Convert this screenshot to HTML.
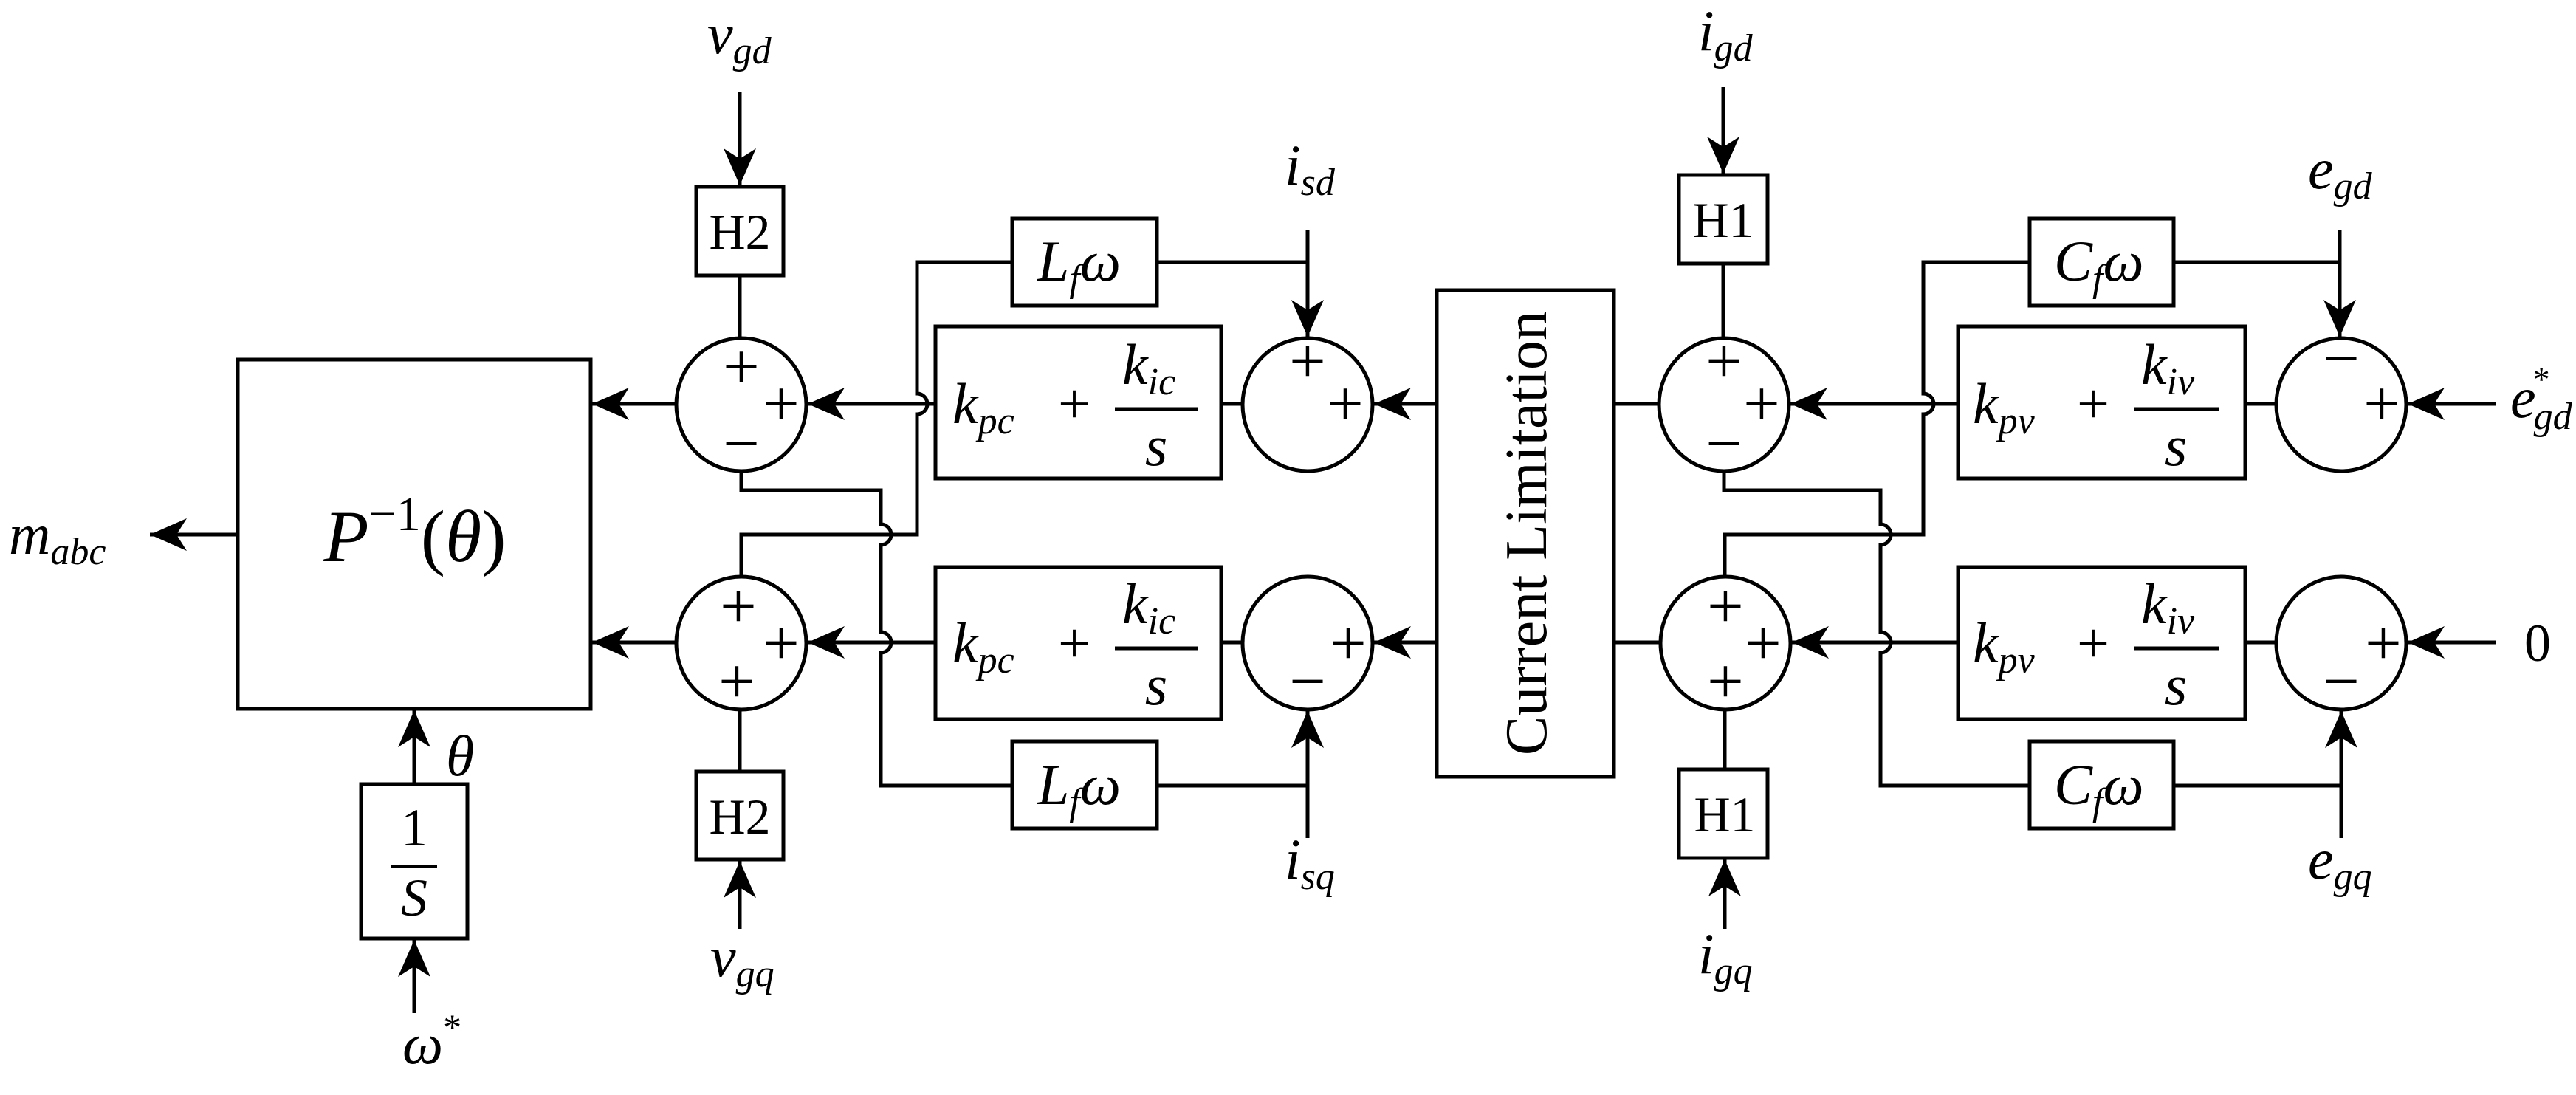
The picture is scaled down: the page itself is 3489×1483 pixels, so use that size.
<!DOCTYPE html>
<html><head><meta charset="utf-8"><style>
html,body{margin:0;padding:0;background:#fff;}
svg{display:block;}
text{font-family:"Liberation Serif",serif;fill:#000;}
.m{font-style:italic;font-size:78px;}
.s{font-size:52px;font-style:italic;}
.u{font-style:normal;}
.pl{font-size:88px;font-style:normal;text-anchor:middle;}
</style></head><body>
<svg width="3489" height="1483" viewBox="0 0 3489 1483" xmlns="http://www.w3.org/2000/svg">
<defs>
<marker id="a" markerUnits="userSpaceOnUse" markerWidth="52" markerHeight="46" refX="50" refY="23" orient="auto">
<path d="M0,1 L50,23 L0,45 L14,23 Z" fill="#000"/>
</marker>
</defs>
<g fill="none" stroke="#000" stroke-width="5">
<rect x="322" y="487" width="478" height="473"/>
<rect x="489" y="1062" width="144" height="209"/>
<rect x="943" y="253" width="118" height="120"/>
<rect x="943" y="1045" width="118" height="119"/>
<rect x="1267" y="442" width="387" height="206"/>
<rect x="1267" y="768" width="387" height="206"/>
<rect x="1371" y="296" width="196" height="118"/>
<rect x="1371" y="1004" width="196" height="118"/>
<rect x="1946" y="393" width="240" height="659"/>
<rect x="2274" y="237" width="120" height="120"/>
<rect x="2274" y="1042" width="120" height="120"/>
<rect x="2652" y="442" width="389" height="206"/>
<rect x="2652" y="768" width="389" height="206"/>
<rect x="2749" y="296" width="195" height="118"/>
<rect x="2749" y="1004" width="195" height="118"/>
<ellipse cx="1004" cy="548" rx="88" ry="90"/>
<ellipse cx="1004" cy="871" rx="88" ry="90"/>
<ellipse cx="1771" cy="548" rx="88" ry="90"/>
<ellipse cx="1771" cy="871" rx="88" ry="90"/>
<ellipse cx="2335" cy="548" rx="88" ry="90"/>
<ellipse cx="2337" cy="871" rx="88" ry="90"/>
<ellipse cx="3171" cy="548" rx="88" ry="90"/>
<ellipse cx="3171" cy="871" rx="88" ry="90"/>
<line x1="322" y1="724" x2="203" y2="724" marker-end="url(#a)"/>
<line x1="916" y1="547" x2="802" y2="547" marker-end="url(#a)"/>
<line x1="916" y1="870" x2="802" y2="870" marker-end="url(#a)"/>
<line x1="561" y1="1062" x2="561" y2="962" marker-end="url(#a)"/>
<line x1="561" y1="1372" x2="561" y2="1273" marker-end="url(#a)"/>
<line x1="1002" y1="124" x2="1002" y2="251" marker-end="url(#a)"/>
<line x1="1002" y1="373" x2="1002" y2="458"/>
<line x1="1002" y1="1258" x2="1002" y2="1166" marker-end="url(#a)"/>
<line x1="1002" y1="1045" x2="1002" y2="961"/>
<line x1="1267" y1="547" x2="1094" y2="547" marker-end="url(#a)"/>
<line x1="1267" y1="870" x2="1094" y2="870" marker-end="url(#a)"/>
<line x1="1654" y1="547" x2="1683" y2="547"/>
<line x1="1654" y1="870" x2="1683" y2="870"/>
<path d="M1371,355 H1242 V533 A14,14 0 0 1 1242,561 V724 H1004 V781"/>
<path d="M1004,638 V664 H1193 V710 A14,14 0 0 1 1193,738 V856 A14,14 0 0 1 1193,884 V1064 H1371"/>
<path d="M1567,355 H1771"/>
<line x1="1771" y1="312" x2="1771" y2="456" marker-end="url(#a)"/>
<path d="M1567,1064 H1771"/>
<line x1="1771" y1="1135" x2="1771" y2="963" marker-end="url(#a)"/>
<line x1="1946" y1="547" x2="1861" y2="547" marker-end="url(#a)"/>
<line x1="1946" y1="870" x2="1861" y2="870" marker-end="url(#a)"/>
<line x1="2186" y1="547" x2="2247" y2="547"/>
<line x1="2186" y1="870" x2="2249" y2="870"/>
<line x1="2334" y1="118" x2="2334" y2="235" marker-end="url(#a)"/>
<line x1="2334" y1="357" x2="2334" y2="458"/>
<line x1="2336" y1="1258" x2="2336" y2="1164" marker-end="url(#a)"/>
<line x1="2336" y1="1042" x2="2336" y2="961"/>
<line x1="2652" y1="547" x2="2425" y2="547" marker-end="url(#a)"/>
<line x1="2652" y1="870" x2="2427" y2="870" marker-end="url(#a)"/>
<line x1="3041" y1="547" x2="3083" y2="547"/>
<line x1="3041" y1="870" x2="3083" y2="870"/>
<path d="M2749,355 H2605 V533 A14,14 0 0 1 2605,561 V724 H2336 V781"/>
<path d="M2335,638 V664 H2547 V710 A14,14 0 0 1 2547,738 V856 A14,14 0 0 1 2547,884 V1064 H2749"/>
<path d="M2944,355 H3169"/>
<line x1="3169" y1="312" x2="3169" y2="456" marker-end="url(#a)"/>
<path d="M2944,1064 H3171"/>
<line x1="3171" y1="1135" x2="3171" y2="963" marker-end="url(#a)"/>
<line x1="3380" y1="547" x2="3261" y2="547" marker-end="url(#a)"/>
<line x1="3380" y1="870" x2="3261" y2="870" marker-end="url(#a)"/>
<line x1="530" y1="1173" x2="592" y2="1173" stroke-width="4"/>
<line x1="1510" y1="554" x2="1623" y2="554"/>
<line x1="1510" y1="878" x2="1623" y2="878"/>
<line x1="2890" y1="554" x2="3005" y2="554"/>
<line x1="2890" y1="878" x2="3005" y2="878"/>
</g>
<text x="562" y="760" class="m" text-anchor="middle" style="font-size:100px">P<tspan class="u" style="font-size:66px" dy="-42">−1</tspan><tspan class="u" dy="42">(</tspan>θ<tspan class="u">)</tspan></text>
<text x="12" y="750" class="m">m<tspan class="s" dy="14">abc</tspan></text>
<text x="561" y="1145" class="u" style="font-size:72px" text-anchor="middle">1</text>
<text x="561" y="1240" class="m" style="font-size:72px" text-anchor="middle">S</text>
<text x="604" y="1050" class="m">θ</text>
<text x="545" y="1440" class="m">ω<tspan class="u" style="font-size:50px" dy="-32">*</tspan></text>
<text x="958" y="72" class="m">v<tspan class="s" dy="14">gd</tspan></text>
<text x="962" y="1322" class="m">v<tspan class="s" dy="14">gq</tspan></text>
<text x="1002" y="337" style="font-size:68px" text-anchor="middle">H2</text>
<text x="1002" y="1129" style="font-size:68px" text-anchor="middle">H2</text>
<text x="2334" y="321" style="font-size:68px" text-anchor="middle">H1</text>
<text x="2336" y="1126" style="font-size:68px" text-anchor="middle">H1</text>
<text x="1290" y="573" class="m">k<tspan class="s" dy="14">pc</tspan></text>
<text x="1455" y="573" class="u" style="font-size:78px" text-anchor="middle">+</text>
<text x="1520" y="520" class="m">k<tspan class="s" dy="14">ic</tspan></text>
<text x="1566" y="630" class="m" text-anchor="middle">s</text>
<text x="1290" y="897" class="m">k<tspan class="s" dy="14">pc</tspan></text>
<text x="1455" y="897" class="u" style="font-size:78px" text-anchor="middle">+</text>
<text x="1520" y="844" class="m">k<tspan class="s" dy="14">ic</tspan></text>
<text x="1566" y="954" class="m" text-anchor="middle">s</text>
<text x="2672" y="573" class="m">k<tspan class="s" dy="14">pv</tspan></text>
<text x="2835" y="573" class="u" style="font-size:78px" text-anchor="middle">+</text>
<text x="2900" y="520" class="m">k<tspan class="s" dy="14">iv</tspan></text>
<text x="2947" y="630" class="m" text-anchor="middle">s</text>
<text x="2672" y="897" class="m">k<tspan class="s" dy="14">pv</tspan></text>
<text x="2835" y="897" class="u" style="font-size:78px" text-anchor="middle">+</text>
<text x="2900" y="844" class="m">k<tspan class="s" dy="14">iv</tspan></text>
<text x="2947" y="954" class="m" text-anchor="middle">s</text>
<text x="1405" y="380" class="m">L<tspan class="s" dy="14">f</tspan><tspan dy="-14">ω</tspan></text>
<text x="1405" y="1089" class="m">L<tspan class="s" dy="14">f</tspan><tspan dy="-14">ω</tspan></text>
<text x="2782" y="380" class="m">C<tspan class="s" dy="14">f</tspan><tspan dy="-14">ω</tspan></text>
<text x="2782" y="1089" class="m">C<tspan class="s" dy="14">f</tspan><tspan dy="-14">ω</tspan></text>
<text x="2066" y="750" style="font-size:80px" text-anchor="middle" transform="rotate(-90 2066 722)">Current Limitation</text>
<text x="1740" y="250" class="m">i<tspan class="s" dy="14">sd</tspan></text>
<text x="1740" y="1190" class="m">i<tspan class="s" dy="14">sq</tspan></text>
<text x="2300" y="68" class="m">i<tspan class="s" dy="14">gd</tspan></text>
<text x="2300" y="1318" class="m">i<tspan class="s" dy="14">gq</tspan></text>
<text x="3126" y="255" class="m">e<tspan class="s" dy="14">gd</tspan></text>
<text x="3126" y="1190" class="m">e<tspan class="s" dy="14">gq</tspan></text>
<text x="3400" y="565" class="m">e<tspan class="u" style="font-size:46px" dx="-4" dy="-36">*</tspan><tspan class="s" dx="-22" dy="52">gd</tspan></text>
<text x="3437" y="895" style="font-size:72px" text-anchor="middle">0</text>
<g>
<text x="1004" y="526" class="pl">+</text><text x="1058" y="576" class="pl">+</text><text x="1004" y="630" class="pl">−</text>
<text x="1000" y="850" class="pl">+</text><text x="1058" y="900" class="pl">+</text><text x="998" y="952" class="pl">+</text>
<text x="1771" y="518" class="pl">+</text><text x="1822" y="576" class="pl">+</text>
<text x="1826" y="900" class="pl">+</text><text x="1771" y="952" class="pl">−</text>
<text x="2335" y="518" class="pl">+</text><text x="2386" y="576" class="pl">+</text><text x="2335" y="630" class="pl">−</text>
<text x="2337" y="850" class="pl">+</text><text x="2388" y="900" class="pl">+</text><text x="2337" y="952" class="pl">+</text>
<text x="3171" y="515" class="pl">−</text><text x="3226" y="576" class="pl">+</text>
<text x="3228" y="900" class="pl">+</text><text x="3171" y="952" class="pl">−</text>
</g>
</svg>
</body></html>
